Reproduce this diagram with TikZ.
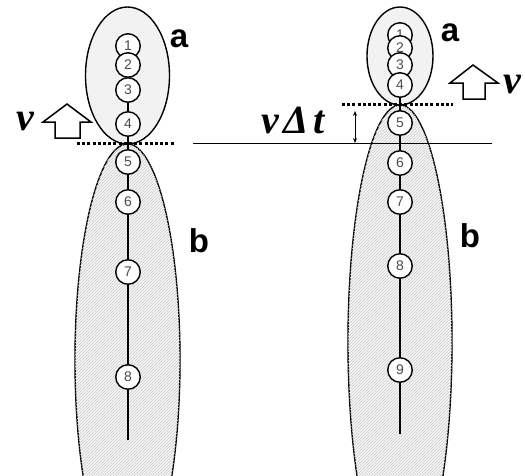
\documentclass[tikz,border=0pt]{standalone}
\usepackage{fontspec}
\setmainfont{Liberation Serif}
\setsansfont{Liberation Sans}
\usetikzlibrary{patterns,arrows.meta}
\begin{document}
\begin{tikzpicture}[x=1pt,y=-1pt,
  ball/.style={circle,draw=black,line width=1.4pt,fill=white,minimum size=24.5pt,inner sep=0pt,
    font=\sffamily\fontsize{14}{14}\selectfont,text=black!70},
  partA/.style={draw=black,line width=1.4pt,fill=gray!10},
  partB/.style={draw=black,line width=1.4pt,fill=gray!6},
  hatch/.style={pattern=north east lines,pattern color=gray!42},
  spine/.style={line width=2.2pt},
  cut/.style={line width=2.4pt,dash pattern=on 3pt off 2.2pt},
  lbl/.style={font=\sffamily\bfseries\fontsize{33}{33}\selectfont,inner sep=0pt},
  vel/.style={font=\bfseries\itshape\fontsize{40}{40}\selectfont,inner sep=0pt},
  blockarrow/.style={draw=black,line width=1.5pt,fill=white,line join=miter}
]
\useasboundingbox (0,0) rectangle (525,475);

% ---------------- left figure ----------------
\path[partB] (127.5,360) ellipse [x radius=52.5,y radius=216];
\path[hatch] (127.5,360) ellipse [x radius=52.5,y radius=216];
\path[partA] (127.5,75.5) ellipse [x radius=42,y radius=68.5];

\coordinate (lend) at (128,440);
\node[ball] (c1) at (128,46) {1};
\draw[spine] (128,90) -- (lend);
\node[ball] (c2) at (128,65) {2};
\node[ball] (c3) at (128,90) {3};
\node[ball] (c4) at (128,124) {4};
\node[ball] (c5) at (128,162) {5};
\node[ball] (c6) at (128,202) {6};
\node[ball] (c7) at (128,272) {7};
\node[ball] (c8) at (128,377) {8};

\coordinate (lcutL) at (77,143.5);
\coordinate (lcutR) at (174,143.5);
\draw[cut] (lcutL) -- (lcutR);

\node[lbl] (la) at (179,39) {a};
\node[lbl] (lb) at (199,241) {b};
\node[vel] (lv) at (25,121) {v};
\draw[blockarrow] (67,104) -- (91,122) -- (80,122) -- (80,138) -- (55,138) -- (55,122) -- (43,122) -- cycle;

% ---------------- right figure ----------------
\path[partB] (400,342) ellipse [x radius=52,y radius=237];
\path[hatch] (400,342) ellipse [x radius=52,y radius=237];
\path[partA] (400,56) ellipse [x radius=33,y radius=49];

\coordinate (rend) at (400,434);
\draw[spine] (400,85) -- (rend);
\node[ball] (d1) at (400,35) {1};
\node[ball] (d2) at (400,48) {2};
\node[ball] (d3) at (400,65) {3};
\node[ball] (d4) at (400,85) {4};
\node[ball] (d5) at (400,123) {5};
\node[ball] (d6) at (400,163) {6};
\node[ball] (d7) at (400,202) {7};
\node[ball] (d8) at (400,266) {8};
\node[ball] (d9) at (400,370) {9};

\coordinate (rcutL) at (342,104.5);
\coordinate (rcutR) at (453,104.5);
\draw[cut] (rcutL) -- (rcutR);

\coordinate (baseL) at (193,143);
\coordinate (baseR) at (492,143);
\draw[line width=1pt] (baseL) -- (baseR);

\coordinate (dtop) at (355,111);
\coordinate (dbot) at (355,143);
\draw[line width=0.8pt,{Stealth[length=5pt,width=4pt]}-{Stealth[length=5pt,width=4pt]}] (dtop) -- (dbot);

\node[lbl] (ra) at (450,33) {a};
\node[lbl] (rb) at (470,236) {b};
\node[vel,anchor=base west] (vdt) at (261,133) {v\kern5pt Δ\kern4pt t};
\node[vel] (rv) at (512,85) {v};
\draw[blockarrow] (473,65) -- (498,83) -- (485,83) -- (485,99) -- (463,99) -- (463,83) -- (450,83) -- cycle;
\end{tikzpicture}
\end{document}
